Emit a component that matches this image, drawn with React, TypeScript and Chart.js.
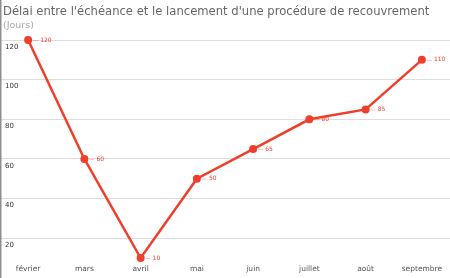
import React, { useEffect, useRef } from "react";
import { Chart, registerables } from "chart.js";

Chart.register(...registerables);

const categories = ["février", "mars", "avril", "mai", "juin", "juillet", "août", "septembre"];
const delaiJours = [120, 60, 10, 50, 65, 80, 85, 110];
const yTicks = [20, 40, 60, 80, 100, 120];

const RED = "#ef3f2b";
const FONT = "'DejaVu Sans', sans-serif";

const pointLabels = {
  id: "pointLabels",
  afterDatasetsDraw(chart: any) {
    const ctx = chart.ctx;
    const meta = chart.getDatasetMeta(0);
    const values = chart.data.datasets[0].data;
    ctx.save();
    ctx.font = `6px ${FONT}`;
    ctx.textAlign = "left";
    ctx.textBaseline = "middle";
    meta.data.forEach((pt: any, i: number) => {
      ctx.strokeStyle = "rgba(239,63,43,0.3)";
      ctx.lineWidth = 1;
      ctx.beginPath();
      ctx.moveTo(pt.x + 5, pt.y + 0.5);
      ctx.lineTo(pt.x + 10, pt.y + 0.5);
      ctx.stroke();
      ctx.fillStyle = RED;
      ctx.fillText(String(values[i]), pt.x + 12, pt.y);
    });
    ctx.restore();
  },
};

// shift the title and subtitle boxes slightly right of the chart's left edge
const titleIndent = {
  id: "titleIndent",
  afterLayout(chart: any) {
    chart.boxes.forEach((box: any) => {
      if (!box.axis && box.options && box.options.text !== undefined) {
        box.left += 3;
        box.right += 3;
      }
    });
  },
};

const leftBorder = {
  id: "leftBorder",
  afterDraw(chart: any) {
    const ctx = chart.ctx;
    ctx.save();
    ctx.strokeStyle = "#8f8f8f";
    ctx.lineWidth = 1.5;
    ctx.beginPath();
    ctx.moveTo(0.75, 0);
    ctx.lineTo(0.75, chart.height);
    ctx.stroke();
    ctx.restore();
  },
};

export default function App() {
  const ref = useRef<HTMLCanvasElement | null>(null);
  useEffect(() => {
    document.body.style.margin = "0";
    if (!ref.current) return;
    const chart = new Chart(ref.current, {
      type: "line",
      data: {
        labels: categories,
        datasets: [
          {
            data: delaiJours,
            borderColor: RED,
            backgroundColor: RED,
            borderWidth: 2.5,
            pointRadius: 4,
            pointBackgroundColor: RED,
            pointBorderColor: RED,
            pointBorderWidth: 0,
            tension: 0,
            clip: false as any,
          },
        ],
      },
      options: {
        responsive: false,
        animation: false,
        layout: { autoPadding: false, padding: { left: 0, right: 0, top: 0, bottom: 1 } },
        plugins: {
          legend: { display: false },
          tooltip: { enabled: false },
          title: {
            display: true,
            text: "Délai entre l'échéance et le lancement d'une procédure de recouvrement",
            align: "start",
            color: "#666666",
            font: { family: FONT, size: 11.6, weight: "normal" },
            padding: { top: 5, bottom: 0 },
          },
          subtitle: {
            display: true,
            text: "(Jours)",
            align: "start",
            color: "#aaaaaa",
            font: { family: FONT, size: 9.5 },
            padding: { top: 1, bottom: 8.7 },
          },
        },
        scales: {
          x: {
            type: "category",
            offset: true,
            grid: { display: false, drawTicks: false },
            border: { display: false },
            ticks: {
              color: "#555555",
              font: { family: FONT, size: 7.5 },
              padding: 3,
              maxRotation: 0,
              autoSkip: false,
            },
          },
          y: {
            min: 8,
            max: 120,
            afterFit: (scale: any) => {
              scale.width = 0;
            },
            afterBuildTicks: (scale: any) => {
              scale.ticks = yTicks.map((v) => ({ value: v }));
            },
            grid: { color: "#dddddd", lineWidth: 1, drawTicks: false },
            border: { display: false },
            ticks: {
              mirror: true,
              padding: 5,
              labelOffset: 7,
              color: "#333333",
              font: { family: FONT, size: 7 },
            },
          },
        },
      },
      plugins: [titleIndent, pointLabels, leftBorder],
    });
    return () => chart.destroy();
  }, []);
  return (
    <div style={{ width: 450, height: 278 }}>
      <canvas ref={ref} width={450} height={278} style={{ display: "block" }} />
    </div>
  );
}
